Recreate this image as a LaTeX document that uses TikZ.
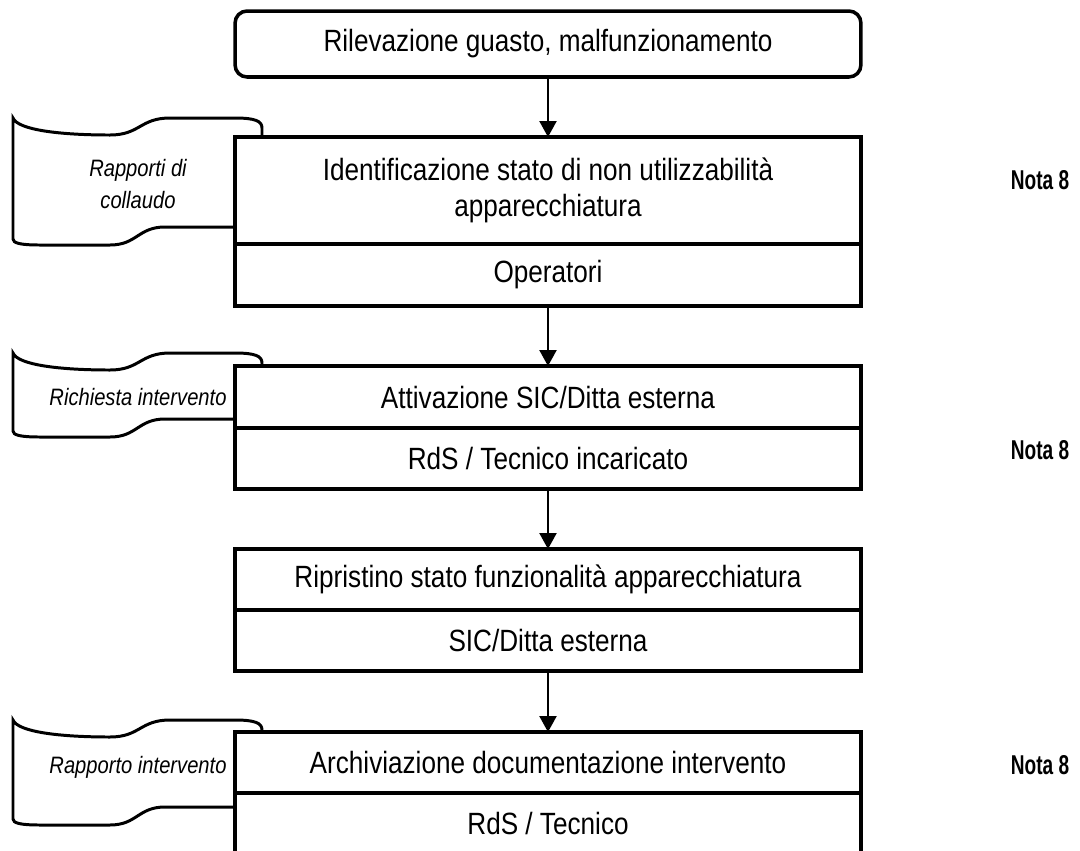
\documentclass[tikz,border=0pt]{standalone}
\usepackage{fontspec}
\setmainfont{Liberation Sans}[FakeStretch=0.85]
\newfontfamily\notafont{Liberation Sans}[FakeStretch=0.7]
\usetikzlibrary{arrows.meta,positioning}

% wavy document shape, tucked behind a step box
\newcommand{\tapedoc}[2]{% #1 top y, #2 bottom y
  \draw[tape] (13,#1) .. controls (18,{#1+12}) and (60,{#1+17}) .. (110,{#1+17})
    .. controls (140,{#1+17}) and (140,{#1}) .. (170,{#1})
    -- (235,{#1}) .. controls (255,{#1}) and (262,{#1+3}) .. (262,{#1+10})
    -- (262,{#2-10}) -- (250,{#2-18})
    -- (165,{#2-18}) .. controls (138,{#2-18}) and (137,{#2}) .. (110,{#2})
    -- (40,{#2}) .. controls (20,{#2}) and (13,{#2-2}) .. (13,{#2-6}) -- cycle;
}

\tikzset{
  stepbox/.style={draw, line width=2pt, fill=white, minimum width=12.52cm,
    inner sep=0pt, outer sep=0pt, align=center,
    font=\fontsize{17.5}{20.5}\selectfont},
  flow/.style={line width=1.3pt, -{Triangle[width=0.34cm,length=0.32cm]}},
  tape/.style={line width=1.7pt, fill=white},
  tapetext/.style={align=center, font=\fontsize{13.5}{18}\selectfont\itshape},
  nota/.style={font=\notafont\fontsize{15.5}{18}\selectfont\bfseries},
}

\begin{document}
\begin{tikzpicture}[x=0.02cm, y=-0.02cm]
		\useasboundingbox (0,0) rectangle (1080,850);
		% Documents on the left
		\tapedoc{118}{245}
		\tapedoc{353}{437}
		\tapedoc{720}{825}
		\node[tapetext] (doc1) at (138,184) {Rapporti di\\collaudo};
		\node[tapetext] (doc2) at (138,397) {Richiesta intervento};
		\node[tapetext] (doc3) at (138,767) {Rapporto intervento};
		%
		% Steps
		\node[stepbox, rounded corners=0.24cm, minimum height=1.32cm] (rilev) at (548,44) {Rilevazione guasto, malfunzionamento};
		\node[stepbox, minimum height=2.14cm] (ident) at (548,190.5) {Identificazione stato di non utilizzabilit\`a\\apparecchiatura};
		\node[stepbox, minimum height=1.24cm, anchor=north] (identR) at (ident.south) {Operatori};
		\node[stepbox, minimum height=1.24cm] (attiv) at (548,397) {Attivazione SIC/Ditta esterna};
		\node[stepbox, minimum height=1.22cm, anchor=north] (attivR) at (attiv.south) {RdS / Tecnico incaricato};
		\node[stepbox, minimum height=1.22cm] (ripr) at (548,579.5) {Ripristino stato funzionalit\`a apparecchiatura};
		\node[stepbox, minimum height=1.22cm, anchor=north] (riprR) at (ripr.south) {SIC/Ditta esterna};
		\node[stepbox, minimum height=1.22cm] (arch) at (548,762.5) {Archiviazione documentazione intervento};
		\node[stepbox, minimum height=1.22cm, anchor=north] (archR) at (arch.south) {RdS / Tecnico};
		%
		% Notes on the right
		\node[nota] (nota1) at (1040,180) {Nota 8};
		\node[nota] (nota2) at (1040,450) {Nota 8};
		\node[nota] (nota3) at (1040,765) {Nota 8};
		% Drawing the arrows
		\draw[flow] (rilev) to (ident); \draw[flow] (identR) to (attiv);
		\draw[flow] (attivR) to (ripr); \draw[flow] (riprR) to (arch);
	\end{tikzpicture}
\end{document}
